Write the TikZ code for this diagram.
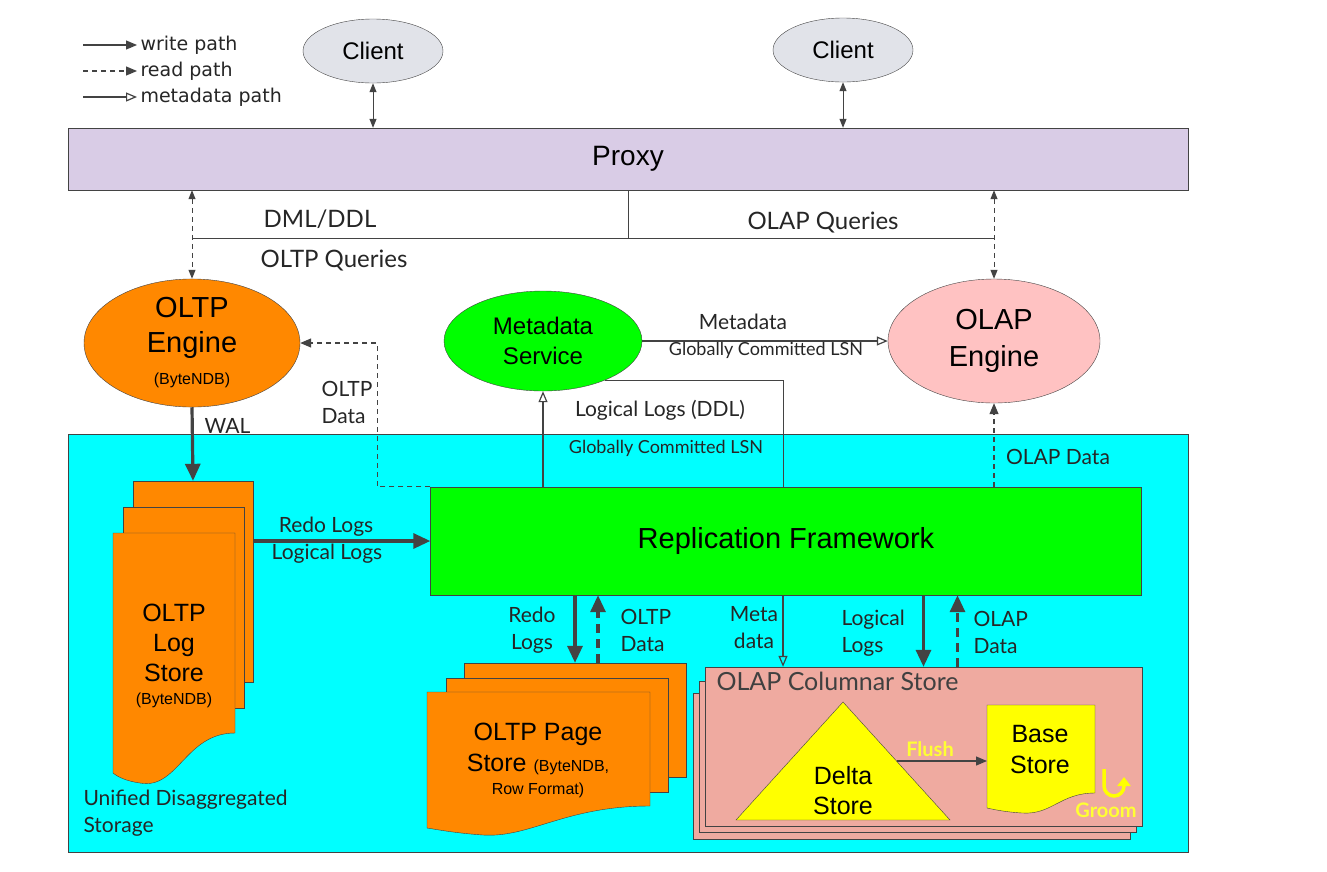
\documentclass[tikz,border=0pt]{standalone}
\usepackage{fontspec}
\setmainfont{Liberation Sans}
\newfontfamily\lblfont{Lato}
\newfontfamily\keyfont{DejaVu Sans}
\usetikzlibrary{shapes.geometric,arrows.meta,positioning}

\definecolor{linegray}{HTML}{434343}
\definecolor{clientgray}{HTML}{E1E3E9}
\definecolor{proxyfill}{HTML}{D9CCE6}
\definecolor{oltporange}{HTML}{FF8800}
\definecolor{engpink}{HTML}{FFC2C2}
\definecolor{colsalmon}{HTML}{EFAAA0}
\definecolor{storecyan}{HTML}{00FFFF}
\definecolor{brightgreen}{HTML}{00FF00}
\definecolor{brightyellow}{HTML}{FFFF00}
\definecolor{txtyellow}{HTML}{FFFF33}

\tikzset{
  cli/.style={ellipse, draw=linegray, fill=clientgray, inner sep=0pt,
    minimum width=140, minimum height=64, font=\fontsize{24}{24}\selectfont},
  eng/.style={ellipse, draw=linegray, inner sep=0pt, align=center},
  bar/.style={draw=linegray, inner sep=0pt},
  page/.style={draw=linegray, fill=oltporange, inner sep=0pt},
  lbl/.style={font=\lblfont\fontsize{21}{27}\selectfont, text=black!85},
  smlbl/.style={font=\lblfont\fontsize{18}{20}\selectfont, text=black!85},
  qlbl/.style={font=\lblfont\fontsize{24}{24}\selectfont, text=black!85},
  keylbl/.style={anchor=west, font=\keyfont\fontsize{19}{19}\selectfont, text=black!85},
  wr/.style={draw=linegray, line width=1.2pt, -{Triangle[length=11pt,width=9pt]}},
  rd/.style={wr, dash pattern=on 5pt off 4pt},
  md/.style={draw=linegray, line width=1.2pt, -{Triangle[open,length=11pt,width=9pt]}},
  bi/.style={draw=linegray, line width=1pt, {Triangle[length=9pt,width=7pt]}-{Triangle[length=9pt,width=7pt]}},
  thk/.style={draw=linegray, line width=3.2pt, -{Triangle[length=17pt,width=15pt]}},
  rdthk/.style={thk, dash pattern=on 9pt off 6pt},
}

\begin{document}
\begin{tikzpicture}[x=1pt,y=-1pt]
\useasboundingbox[fill=white] (0,0) rectangle (1327,871);

% legend
\node[keylbl] (kw) at (137,45) {write path};
\node[keylbl] (kr) at (137,71) {read path};
\node[keylbl] (km) at (137,97) {metadata path};
\coordinate (k1) at (83,45);
\coordinate (k2) at (83,71);
\coordinate (k3) at (83,97);
\draw[wr] (k1) -- (kw.west);
\draw[rd] (k2) -- (kr.west);
\draw[md] (k3) -- (km.west);

% clients and proxy
\node[cli] (cliL) at (373,51) {Client};
\node[cli] (cliR) at (843,50) {Client};
\node[bar, fill=proxyfill, minimum width=1120, minimum height=62,
  font=\fontsize{28}{28}\selectfont] (proxy) at (628,159) {Proxy};
\draw[bi] (cliL.south) -- (cliL |- proxy.north);
\draw[bi] (cliR.south) -- (cliR |- proxy.north);

% storage area
\node[bar, fill=storecyan, minimum width=1120, minimum height=418] (storage) at (628,643) {};
\node[lbl, anchor=north west, align=left] (udslbl) at (80,786) {Unified Disaggregated\\Storage};

% engines
\node[eng, fill=oltporange, minimum width=216, minimum height=118,
  font=\fontsize{29}{35}\selectfont] (oltpeng) at (192,343)
  {OLTP\\Engine\\[-3pt]{\fontsize{16}{16}\selectfont(ByteNDB)}};
\node[eng, fill=brightgreen, minimum width=198, minimum height=100,
  font=\fontsize{24}{30}\selectfont] (metasvc) at (543,341) {Metadata\\Service};
\node[eng, fill=engpink, minimum width=212, minimum height=124,
  font=\fontsize{29}{37}\selectfont] (olapeng) at (994,341) {OLAP\\Engine};

% proxy to engines
\draw[bi, dash pattern=on 5pt off 4pt] (proxy.south -| oltpeng) -- (oltpeng.north);
\draw[bi, dash pattern=on 5pt off 4pt] (proxy.south -| olapeng) -- (olapeng.north);
\draw[draw=linegray, line width=1pt] (proxy.south) -- ++(0,48) coordinate (qsplit);
\draw[draw=linegray, line width=1pt] (qsplit -| oltpeng) -- (qsplit -| olapeng);
\node[qlbl] (dmllbl) at (320,219) {DML/DDL};
\node[qlbl] (oltpqlbl) at (334,261) {OLTP Queries};
\node[qlbl] (olapqlbl) at (823,223) {OLAP Queries};

% replication framework
\node[bar, fill=brightgreen, minimum width=711, minimum height=108,
  font=\fontsize{29}{29}\selectfont] (repl) at (786,541) {Replication Framework};

% metadata service links
\draw[md] (metasvc.east) -- (olapeng.west);
\node[lbl] (mdlbl) at (743,322) {Metadata};
\node[smlbl] (gclsn1) at (766,350) {Globally Committed LSN};
\draw[md] (repl.north -| metasvc) -- (metasvc.south);
\node[lbl] (llddl) at (660,410) {Logical Logs (DDL)};
\node[smlbl] (gclsn2) at (666,448) {Globally Committed LSN};
\coordinate (mdtap) at (783,378);
\draw[draw=linegray, line width=1pt] (mdtap |- repl.north) |- (metasvc.-32);

% read paths to engines
\draw[rd] (repl.north west) -- ++(-53,0) |- (oltpeng.east);
\node[lbl, align=left] (oltpdlbl) at (347,402) {OLTP\\Data};
\draw[rd] (repl.north -| olapeng) -- (olapeng.south);
\node[lbl] (olapdlbl) at (1058,457) {OLAP Data};

% log store
\node[page, minimum width=120, minimum height=201] (logA) at (193,581.5) {};
\node[page, minimum width=121, minimum height=201] (logB) at (183.5,607.5) {};
\draw[draw=linegray, fill=oltporange] (113,533) -- (235,533) -- (235,733)
  .. controls (185,733) and (178,790) .. (140,783)
  .. controls (126,781) and (118,777) .. (113,773) -- cycle;
\node[align=center, font=\fontsize{25}{30}\selectfont] (logstore) at (174,656)
  {OLTP\\Log\\Store\\[-7pt]{\fontsize{16}{16}\selectfont(ByteNDB)}};
\draw[thk] (oltpeng.south) -- (logA.north);
\node[lbl, anchor=west] (wallbl) at (201,426) {WAL};
\draw[thk] (logA.east |- repl.west) -- (repl.west);
\node[lbl] (redolbl) at (326,527) {Redo Logs};
\node[lbl] (loglbl) at (327,554) {Logical Logs};

% page store
\node[page, minimum width=222, minimum height=114] (pgA) at (575,720) {};
\node[page, minimum width=222, minimum height=114] (pgB) at (557,735) {};
\draw[draw=linegray, fill=oltporange] (427,692) -- (650,692) -- (650,806)
  .. controls (565,806) and (530,838) .. (483,835)
  .. controls (455,833) and (440,830) .. (427,828) -- cycle;
\node[align=center, font=\fontsize{25}{31}\selectfont] (pagestore) at (538,760)
  {OLTP Page\\Store {\fontsize{16}{16}\selectfont(ByteNDB,}\\[-8pt]{\fontsize{16}{16}\selectfont Row Format)}};
\draw[thk] (repl.south -| pgA) -- (pgA.north);
\draw[rdthk] ([xshift=23pt]pgA.north) -- ([xshift=23pt]pgA.north |- repl.south);
\node[lbl, align=center] (redo2lbl) at (532,630) {Redo\\Logs};
\node[lbl, align=left, anchor=west] (oltpd2lbl) at (617,630) {OLTP\\Data};

% columnar store
\node[bar, fill=colsalmon, minimum width=437, minimum height=146] (colA) at (911.5,766) {};
\node[bar, fill=colsalmon, minimum width=437, minimum height=151] (colB) at (917.5,756.5) {};
\node[bar, fill=colsalmon, minimum width=437, minimum height=159] (colstore) at (923.5,746.5) {};
\node[anchor=north west, font=\lblfont\fontsize{25}{25}\selectfont, text=black!75] (collbl)
  at (713,669) {OLAP Columnar Store};
\draw[md] (mdtap |- repl.south) -- (mdtap |- colstore.north);
\node[lbl, align=center] (mdatalbl) at (754,628) {Meta\\data};
\draw[thk] (repl.south -| colstore) -- (colstore.north);
\node[lbl, align=left, anchor=west] (ll2lbl) at (838,633) {Logical\\Logs};
\draw[rdthk] ([xshift=34pt]colstore.north) -- ([xshift=34pt]colstore.north |- repl.south);
\node[lbl, align=left, anchor=west] (olapd2lbl) at (970,632) {OLAP\\Data};

% delta and base store
\draw[draw=linegray, fill=brightyellow] (843,702) -- (950,820) -- (736,820) -- cycle;
\node[align=center, font=\fontsize{25}{30}\selectfont] (delta) at (843,791) {Delta\\Store};
\draw[draw=linegray, fill=brightyellow] (987,705) -- (1095,705) -- (1095,793)
  .. controls (1060,793) and (1052,815) .. (1022,813)
  .. controls (1006,812) and (996,810) .. (987,808) -- cycle;
\node[align=center, font=\fontsize{25}{31}\selectfont] (base) at (1040,750) {Base\\Store};
\coordinate (flushst) at (896.5,761);
\draw[wr] (flushst) -- (flushst -| 987,0);
\node[font=\lblfont\bfseries\fontsize{20}{20}\selectfont, text=txtyellow] (flushlbl) at (930,749) {Flush};
\draw[draw=brightyellow, line width=3.5pt, -{Triangle[length=9pt,width=13pt]}]
  (1104,769) -- (1104,786) arc[start angle=180, end angle=0, radius=10] -- (1124,777);
\node[font=\lblfont\bfseries\fontsize{20}{20}\selectfont, text=txtyellow] (groomlbl) at (1106,810) {Groom};
\end{tikzpicture}
\end{document}
